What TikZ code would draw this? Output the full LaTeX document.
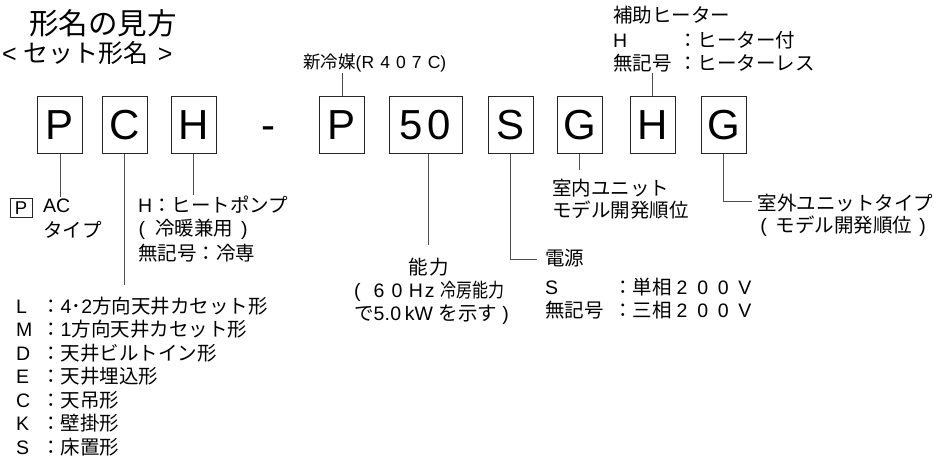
\documentclass[tikz,border=0pt]{standalone}
\usepackage{fontspec}
\setmainfont{Liberation Sans}
\newfontfamily\jp{Noto Sans CJK JP}
\newcommand\fsz[1]{\fontsize{#1}{#1}\selectfont}
\newcommand\lsp[2]{{\addfontfeature{LetterSpace=#1}#2}}
\begin{document}
\begin{tikzpicture}[x=1pt,y=-1pt,
  lbl/.style={inner sep=0pt, anchor=west, font=\fsz{19.5}, text height=15.5pt, text depth=1pt},
  jlbl/.style={lbl, font=\fsz{19.5}\jp},
  clbl/.style={lbl, anchor=center},
  cjlbl/.style={jlbl, anchor=center},
  digitbox/.style={draw=black!85, line width=1pt, inner sep=0pt, minimum width=45pt, minimum height=57pt,
    font=\fsz{42}, text height=30pt, text depth=0pt},
  conn/.style={draw=black!70, line width=0.9pt}]
\useasboundingbox (0,0) rectangle (934,459);

% titles
\node[anchor=west, inner sep=0pt, font=\fsz{29.5}\jp] (title) at (29,23) {形名の見方};
\node[anchor=west, inner sep=0pt, font=\fsz{25}] (sub) at (2,53) {<\hspace{7pt}{\jp セット形名}\hspace{9pt}>};

% code boxes
\node[digitbox] (b1) at (60,124.5) {P};
\node[digitbox] (b2) at (124.5,124.5) {C};
\node[digitbox] (b3) at (193.5,124.5) {H};
\node[inner sep=0pt, font=\fsz{42}, text height=30pt, text depth=0pt] (dash) at (268,124.5) {-};
\node[digitbox] (b4) at (342,124.5) {P};
\node[digitbox, minimum width=73pt] (b5) at (425.5,124.5) {5\kern5pt0};
\node[digitbox] (b6) at (510.5,124.5) {S};
\node[digitbox] (b7) at (579.5,124.5) {G};
\node[digitbox] (b8) at (652.5,124.5) {H};
\node[digitbox] (b9) at (723.5,124.5) {G};

% connector ends
\coordinate (e1) at (60,197);
\coordinate (e2) at (124.5,285);
\coordinate (e3) at (193.5,195);
\coordinate (e4) at (342,73);
\coordinate (e5) at (428,245);
\coordinate (e6) at (537,259);
\coordinate (e7) at (579.5,170);
\coordinate (e8) at (652.5,73);
\coordinate (e9) at (752,201);

\draw[conn] (b1.south) -- (e1);
\draw[conn] (b2.south) -- (e2);
\draw[conn] (b3.south) -- (e3);
\draw[conn] (b4.north) -- (e4);
\draw[conn] (e5 |- b5.south) -- (e5);
\draw[conn] (b6.south) |- (e6);
\draw[conn] (b7.south) -- (e7);
\draw[conn] (b8.north) -- (e8);
\draw[conn] (b9.south) |- (e9);

% P : AC type
\node[draw=black!85, line width=0.8pt, inner sep=0pt, minimum width=22pt, minimum height=19pt,
  font=\fsz{18.5}, text height=13.2pt, text depth=0pt] (sp) at (21,207.5) {P};
\node[lbl] (ac1) at (43,205) {AC};
\node[jlbl] (ac2) at (43,230) {タイプ};

% H : heat pump
\node[lbl] (hp1) at (138,205) {H{\jp ：ヒートポンプ}};
\node[lbl] (hp2) at (138.5,228) {(\hspace{10pt}{\jp 冷暖兼用}\hspace{8pt})};
\node[jlbl] (hp3) at (138,253) {無記号：冷専};

% refrigerant
\node[lbl, font=\fsz{17.5}] (ref) at (303,61) {{\jp 新冷媒}(\lsp{35}{R407C})};

% heater
\node[jlbl] (ht0) at (613,15) {補助ヒーター};
\node[lbl] (ht1) at (613,40) {H};
\node[jlbl] (ht1b) at (678,40) {：ヒーター付};
\node[jlbl] (ht2) at (613,63) {無記号};
\node[jlbl] (ht2b) at (678,63) {：ヒーターレス};

% capacity
\node[cjlbl] (cp1) at (429,267) {\addfontfeature{LetterSpace=8}能力};
\node[lbl] (cp2) at (354,290) {(\kern13pt 6\kern7pt 0\kern6.5pt H\kern2pt z\kern6pt\scalebox{0.82}[1]{\jp 冷房能力}};
\node[lbl] (cp3) at (354,313) {{\jp で}5.\kern0.5pt 0\kern3.5pt kW\kern6pt{\jp を示す}\hspace{5pt})};

% power supply
\node[jlbl] (ps0) at (545,258) {電源};
\node[lbl] (ps1) at (545,287) {S};
\node[lbl] (ps1b) at (613,287) {{\jp ：単相}\kern5pt\lsp{50}{200V}};
\node[jlbl] (ps2) at (545,310) {無記号};
\node[lbl] (ps2b) at (613,310) {{\jp ：三相}\kern5pt\lsp{50}{200V}};

% indoor unit
\node[jlbl] (iu1) at (552,188) {室内ユニット};
\node[jlbl] (iu2) at (552,210) {モデル開発順位};

% outdoor unit
\node[cjlbl] (ou1) at (845.5,203) {室外ユニットタイプ};
\node[clbl] (ou2) at (843,225) {(\hspace{9pt}{\jp モデル開発順位}\hspace{7pt})};

% model types list
\node[lbl] (tL) at (16,306) {L};
\node[lbl] (tLb) at (41,306) {{\jp ：}4{\jp ･}2{\jp 方向天井カセット形}};
\node[lbl] (tM) at (16,329.5) {M};
\node[lbl] (tMb) at (41,329.5) {{\jp ：}1{\jp 方向天井カセット形}};
\node[lbl] (tD) at (16,353) {D};
\node[jlbl] (tDb) at (41,353) {：天井ビルトイン形};
\node[lbl] (tE) at (16,376.5) {E};
\node[jlbl] (tEb) at (41,376.5) {：天井埋込形};
\node[lbl] (tC) at (16,400) {C};
\node[jlbl] (tCb) at (41,400) {：天吊形};
\node[lbl] (tK) at (16,423.5) {K};
\node[jlbl] (tKb) at (41,423.5) {：壁掛形};
\node[lbl] (tS) at (16,447) {S};
\node[jlbl] (tSb) at (41,447) {：床置形};
\end{tikzpicture}
\end{document}
